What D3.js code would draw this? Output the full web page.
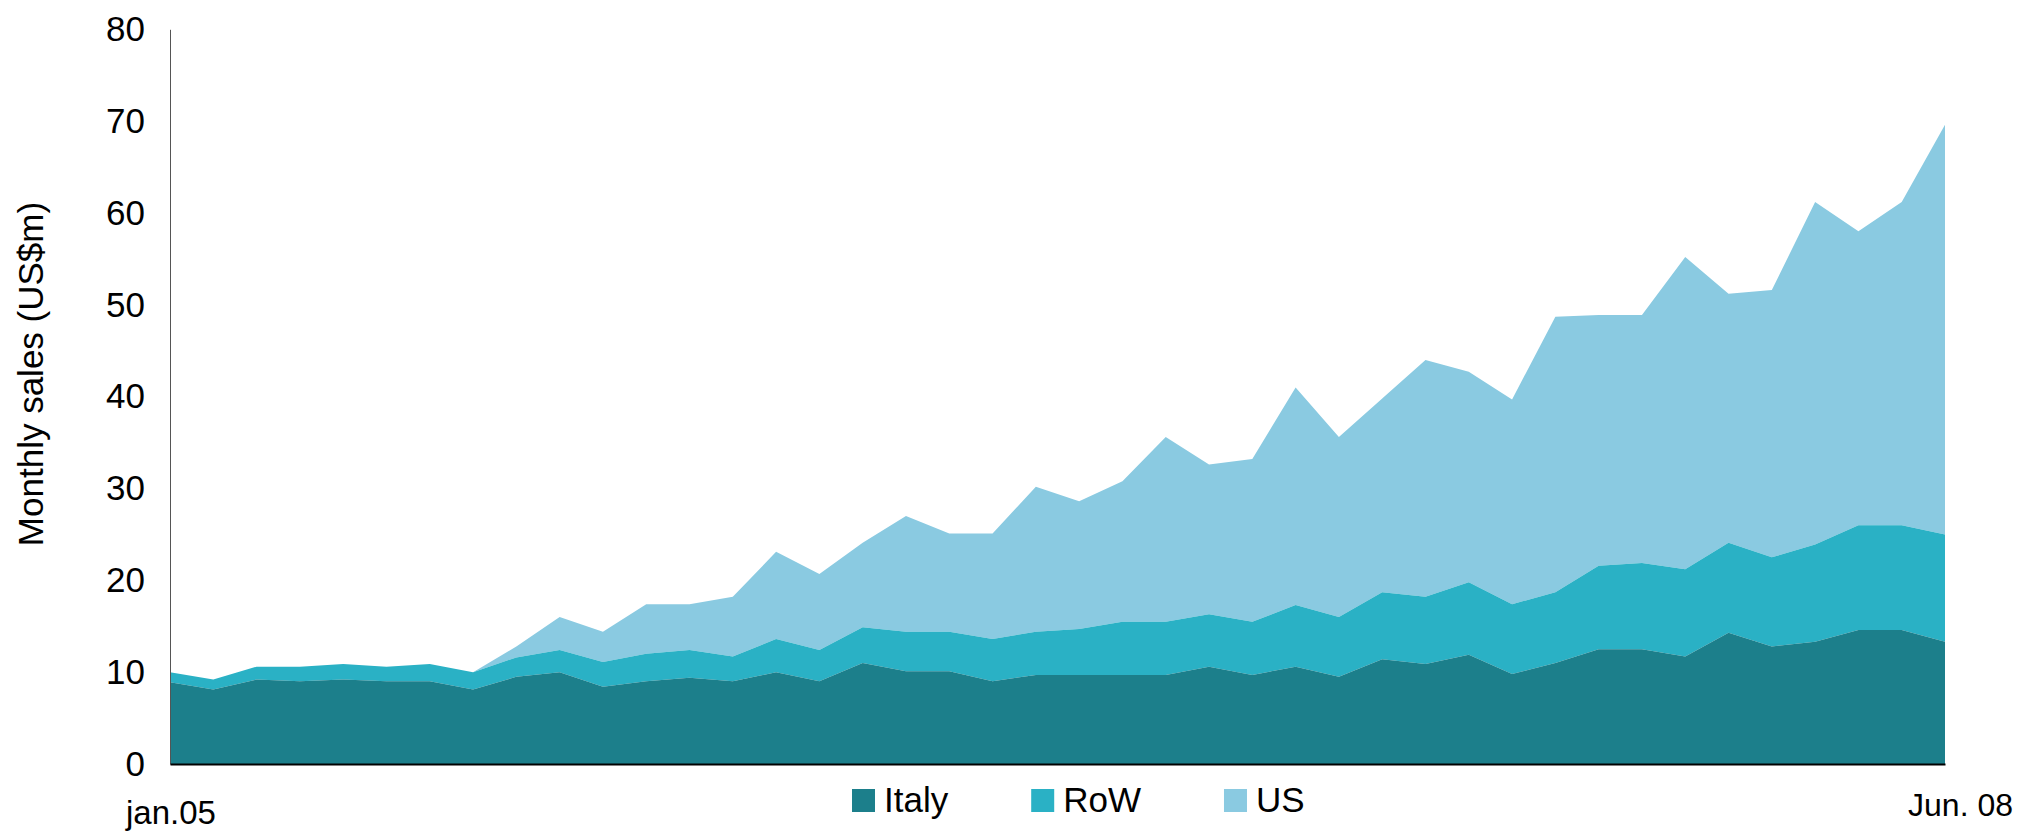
<!DOCTYPE html>
<html>
<head>
<meta charset="utf-8">
<script src="https://cdn.jsdelivr.net/npm/d3@7"></script>
<style>
  html, body { margin: 0; padding: 0; background: #ffffff; }
  svg { display: block; font-family: "Liberation Sans", Arial, sans-serif; }
</style>
</head>
<body>
<svg id="chart" width="2020" height="832"></svg>
<script>
const months = ["Jan 05","Feb 05","Mar 05","Apr 05","May 05","Jun 05","Jul 05","Aug 05","Sep 05","Oct 05","Nov 05","Dec 05",
  "Jan 06","Feb 06","Mar 06","Apr 06","May 06","Jun 06","Jul 06","Aug 06","Sep 06","Oct 06","Nov 06","Dec 06",
  "Jan 07","Feb 07","Mar 07","Apr 07","May 07","Jun 07","Jul 07","Aug 07","Sep 07","Oct 07","Nov 07","Dec 07",
  "Jan 08","Feb 08","Mar 08","Apr 08","May 08","Jun 08"];
const italy = [8.9,8.1,9.2,9.0,9.2,9.0,9.0,8.1,9.5,10.0,8.4,9.0,9.4,9.0,10.0,9.0,11.0,10.1,10.1,9.0,9.7,9.7,9.7,9.7,10.6,9.7,10.6,9.5,11.4,10.9,11.9,9.8,11.0,12.5,12.5,11.7,14.3,12.8,13.3,14.6,14.6,13.3];
const row   = [1.1,1.1,1.4,1.6,1.7,1.6,1.9,1.9,2.1,2.4,2.7,3.0,3.0,2.7,3.6,3.4,3.9,4.3,4.3,4.6,4.7,5.0,5.8,5.8,5.7,5.8,6.7,6.5,7.3,7.3,7.9,7.6,7.7,9.1,9.4,9.5,9.8,9.7,10.6,11.4,11.4,11.7];
const us    = [0,0,0,0,0,0,0,0,1.2,3.6,3.3,5.4,5.0,6.5,9.5,8.3,9.2,12.6,10.7,11.5,15.8,13.9,15.3,20.1,16.3,17.7,23.7,19.6,21.1,25.8,22.9,22.3,30.0,27.3,27.0,34.0,27.1,29.1,37.3,32.0,35.2,44.6];
const seriesNames = ["Italy","RoW","US"];
const yTicks = [0,10,20,30,40,50,60,70,80];
const xEndLabels = ["jan.05","Jun. 08"];
const yTitle = "Monthly sales (US$m)";
const colors = ["#1c7f8b","#2ab1c5","#8acae1"];

const table = months.map((m, i) => ({month: m, Italy: italy[i], RoW: row[i], US: us[i]}));

const svg = d3.select("#chart");
const plotLeft = 170, plotRight = 1945, plotTop = 29.3, plotBottom = 764;

const x = d3.scalePoint().domain(months).range([plotLeft, plotRight]);
const y = d3.scaleLinear().domain([0, 80]).range([plotBottom, plotTop]);

const stacked = d3.stack().keys(seriesNames)(table);
const area = d3.area()
  .x(d => x(d.data.month))
  .y0(d => y(d[0]))
  .y1(d => y(d[1]));

svg.append("g").selectAll("path")
  .data(stacked.slice().reverse())
  .join("path")
  .attr("d", area)
  .attr("fill", d => colors[seriesNames.indexOf(d.key)]);

// Y axis
const yAxis = d3.axisLeft(y).tickValues(yTicks).tickSize(0).tickPadding(25);
const gy = svg.append("g").attr("transform", `translate(${plotLeft},0)`).call(yAxis);
gy.select(".domain").attr("stroke", "#555").attr("stroke-width", 1);
gy.selectAll("text").attr("font-size", 35).attr("fill", "#000")
  .attr("font-family", "Liberation Sans, Arial, sans-serif");

// X axis line
const xAxis = d3.axisBottom(x).tickValues([]).tickSize(0).tickSizeOuter(0);
const gx = svg.append("g").attr("transform", `translate(0,${plotBottom})`).call(xAxis);
gx.select(".domain").attr("stroke", "#000").attr("stroke-width", 2);

// X end labels
svg.append("text").attr("x", x(months[0]) + 1).attr("y", 824)
  .attr("text-anchor", "middle").attr("font-size", 33).text(xEndLabels[0]);
svg.append("text").attr("x", 2013).attr("y", 816)
  .attr("text-anchor", "end").attr("font-size", 32).text(xEndLabels[1]);

// Y title
svg.append("text").attr("transform", "translate(43,374) rotate(-90)")
  .attr("text-anchor", "middle").attr("font-size", 35).text(yTitle);

// Legend
const legend = svg.append("g");
let lx = 852;
seriesNames.forEach((name, i) => {
  legend.append("rect").attr("x", lx).attr("y", 789).attr("width", 23).attr("height", 23)
    .attr("fill", colors[i]);
  const t = legend.append("text").attr("x", lx + 32).attr("y", 812)
    .attr("font-size", 35).text(name);
  const w = t.node().getComputedTextLength();
  lx = lx + 32 + w + 83;
});
</script>
</body>
</html>
